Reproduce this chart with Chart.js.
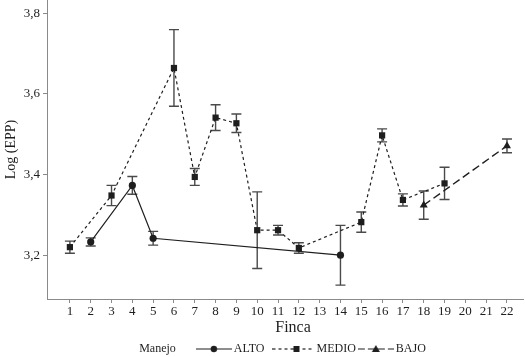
<!DOCTYPE html>
<html>
<head>
<meta charset="utf-8">
<script src="https://cdn.jsdelivr.net/npm/chart.js@4.4.1/dist/chart.umd.min.js"></script>
<style>
  html, body { margin: 0; padding: 0; background: #fff; }
</style>
</head>
<body>
<canvas id="chart" width="525" height="357"></canvas>
<script>
// Log (EPP) por finca, agrupado por manejo
const altoX = [2, 4, 5, 14];
const altoY = [3.233, 3.373, 3.242, 3.200];
const altoErr = [0.010, 0.022, 0.017, 0.074];

const medioX = [1, 3, 6, 7, 8, 9, 10, 11, 12, 15, 16, 17, 19];
const medioY = [3.220, 3.348, 3.664, 3.394, 3.541, 3.527, 3.262, 3.262, 3.218, 3.282, 3.497, 3.337, 3.378];
const medioErr = [0.015, 0.025, 0.095, 0.021, 0.032, 0.023, 0.095, 0.012, 0.013, 0.025, 0.016, 0.015, 0.040];

const bajoX = [18, 22];
const bajoY = [3.324, 3.471];
const bajoErr = [0.035, 0.017];

const xTicks = [1, 2, 3, 4, 5, 6, 7, 8, 9, 10, 11, 12, 13, 14, 15, 16, 17, 18, 19, 20, 21, 22];
const yTicks = [3.2, 3.4, 3.6, 3.8];

const serif = '"Liberation Serif", "Times New Roman", serif';
const ink = '#1e1e1e';
const axisGray = '#8a8a8a';
const nb = '\u00a0';

function points(xs, ys, errs) {
    return xs.map((x, i) => ({ x: x, y: ys[i], err: errs[i] }));
}

// small line-marker-line pictures for the legend
function legendIcon(style, dash, width, mark, lineEnd) {
    const c = document.createElement('canvas');
    c.width = width;
    c.height = 10;
    const g = c.getContext('2d');
    if (style) {
        g.strokeStyle = ink;
        g.lineWidth = 1.2;
        g.setLineDash(dash);
        g.beginPath();
        g.moveTo(0, 5);
        g.lineTo(lineEnd, 5);
        g.stroke();
        g.setLineDash([]);
        g.fillStyle = ink;
        g.beginPath();
        if (style === 'circle') g.arc(mark, 5, 3.2, 0, Math.PI * 2);
        if (style === 'rect') g.rect(mark - 3, 2, 6, 6);
        if (style === 'triangle') { g.moveTo(mark, 1); g.lineTo(mark + 4, 8); g.lineTo(mark - 4, 8); g.closePath(); }
        g.fill();
    }
    return c;
}

const icons = [
    legendIcon(null, [], 4, 0, 0),
    legendIcon('circle', [], 36, 18, 36),
    legendIcon('rect', [3, 3], 48, 24, 42),
    legendIcon('triangle', [7, 3], 36, 18, 36)
];
const legendText = ['Manejo' + nb.repeat(6), 'ALTO' + nb.repeat(4), 'MEDIO', 'BAJO'];

const errorBars = {
    id: 'errorBars',
    beforeDatasetsDraw(chart) {
        const ctx = chart.ctx;
        const xs = chart.scales.x;
        const ys = chart.scales.y;
        ctx.save();
        ctx.strokeStyle = '#4a4a4a';
        ctx.lineWidth = 1.4;
        chart.data.datasets.forEach(ds => {
            ds.data.forEach(p => {
                const px = xs.getPixelForValue(p.x);
                const top = ys.getPixelForValue(p.y + p.err);
                const bot = ys.getPixelForValue(p.y - p.err);
                ctx.beginPath();
                ctx.moveTo(px, top); ctx.lineTo(px, bot);
                ctx.moveTo(px - 5, top); ctx.lineTo(px + 5, top);
                ctx.moveTo(px - 5, bot); ctx.lineTo(px + 5, bot);
                ctx.stroke();
            });
        });
        ctx.restore();
    }
};

// nudge the legend row a little to the right, like the original
const legendShift = {
    id: 'legendShift',
    afterLayout(chart) {
        chart.legend.left += 4;
        chart.legend.right += 4;
    }
};

const ctx = document.getElementById('chart').getContext('2d');

new Chart(ctx, {
    type: 'line',
    data: {
        datasets: [{
            label: 'ALTO',
            data: points(altoX, altoY, altoErr),
            borderColor: ink,
            borderWidth: 1.2,
            pointStyle: 'circle',
            pointRadius: 3.6,
            pointBackgroundColor: ink,
            pointBorderWidth: 0
        }, {
            label: 'MEDIO',
            data: points(medioX, medioY, medioErr),
            borderColor: ink,
            borderWidth: 1.2,
            borderDash: [3, 3],
            pointStyle: 'rect',
            pointRadius: 4.4,
            pointBackgroundColor: ink,
            pointBorderWidth: 0
        }, {
            label: 'BAJO',
            data: points(bajoX, bajoY, bajoErr),
            borderColor: ink,
            borderWidth: 1.4,
            borderDash: [8, 4],
            pointStyle: 'triangle',
            pointRadius: 4.6,
            pointBackgroundColor: ink,
            pointBorderWidth: 0
        }]
    },
    options: {
        responsive: false,
        animation: false,
        layout: { autoPadding: false, padding: { top: 0, right: 2, left: 0, bottom: -8 } },
        plugins: {
            tooltip: { enabled: false },
            legend: {
                position: 'bottom',
                labels: {
                    usePointStyle: true,
                    pointStyleWidth: 28,
                    padding: 6,
                    color: ink,
                    font: { family: serif, size: 12 },
                    generateLabels(chart) {
                        return legendText.map((t, i) => ({
                            text: t,
                            pointStyle: icons[i],
                            fillStyle: 'transparent',
                            strokeStyle: 'transparent',
                            lineWidth: 0,
                            hidden: false,
                            datasetIndex: i > 0 ? i - 1 : undefined,
                            fontColor: ink
                        }));
                    }
                },
                onClick: null
            }
        },
        scales: {
            x: {
                type: 'linear',
                min: -0.1,
                max: 22.77,
                afterBuildTicks(scale) {
                    scale.ticks = xTicks.map(v => ({ value: v }));
                },
                afterFit(scale) {
                    scale.height = 38;
                    scale.paddingLeft = 0;
                    scale.paddingRight = 0;
                },
                ticks: {
                    color: ink,
                    font: { family: serif, size: 13 },
                    padding: 1,
                    maxRotation: 0,
                    autoSkip: false,
                    callback: v => String(v)
                },
                grid: { drawOnChartArea: false, drawTicks: true, tickLength: 4, color: axisGray },
                border: { color: axisGray, width: 1 },
                title: {
                    display: true,
                    text: nb.repeat(4) + 'Finca',
                    color: ink,
                    font: { family: serif, size: 16 },
                    padding: { top: 0, bottom: 0 }
                }
            },
            y: {
                min: 3.0915,
                max: 3.8325,
                afterBuildTicks(scale) {
                    scale.ticks = yTicks.map(v => ({ value: v }));
                },
                afterFit(scale) {
                    scale.width = 47;
                    scale.paddingTop = 0;
                    scale.paddingBottom = 0;
                },
                ticks: {
                    color: ink,
                    font: { family: serif, size: 13 },
                    padding: 3,
                    callback: v => v.toFixed(1).replace('.', ',')
                },
                grid: { drawOnChartArea: false, drawTicks: true, tickLength: 4, color: axisGray },
                border: { color: axisGray, width: 1 },
                title: {
                    display: true,
                    text: 'Log (EPP)',
                    color: ink,
                    font: { family: serif, size: 14 },
                    padding: { top: 3, bottom: 2 }
                }
            }
        }
    },
    plugins: [errorBars, legendShift]
});
</script>
</body>
</html>
